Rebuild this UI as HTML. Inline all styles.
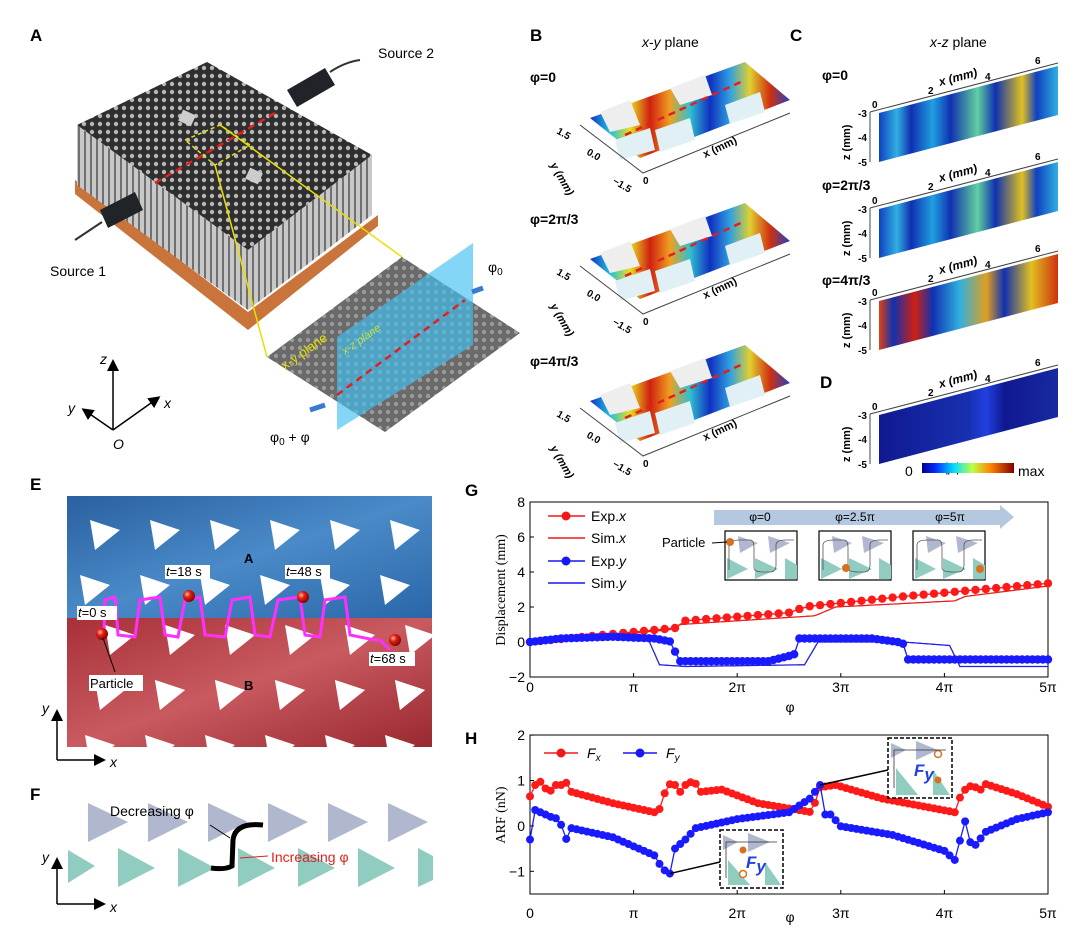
<!DOCTYPE html>
<html><head><meta charset="utf-8">
<style>
html,body{margin:0;padding:0;background:#fff;}
svg{display:block;font-family:"Liberation Sans",Arial,sans-serif;}
.pl{font-weight:bold;font-size:17px;}
.t{font-size:14px;}
.ser{font-family:"Liberation Serif",serif;}
</style></head>
<body>
<svg id="s" width="1080" height="946" viewBox="0 0 1080 946" xmlns="http://www.w3.org/2000/svg">
<defs>
<linearGradient id="jet" x1="0" y1="0" x2="1" y2="0">
<stop offset="0" stop-color="#1030c8"/><stop offset="0.1" stop-color="#20c0e0"/><stop offset="0.2" stop-color="#e8e020"/><stop offset="0.3" stop-color="#d02010"/><stop offset="0.4" stop-color="#f0a020"/><stop offset="0.5" stop-color="#30c0d0"/><stop offset="0.6" stop-color="#1030c0"/><stop offset="0.7" stop-color="#30a0e0"/><stop offset="0.8" stop-color="#e0d030"/><stop offset="0.9" stop-color="#d03010"/><stop offset="1" stop-color="#2040c0"/>
</linearGradient>
<linearGradient id="cz" x1="0" y1="0" x2="1" y2="0">
<stop offset="0" stop-color="#1040c0"/><stop offset="0.1" stop-color="#30b0e0"/><stop offset="0.18" stop-color="#1030b0"/><stop offset="0.3" stop-color="#20a0e0"/><stop offset="0.4" stop-color="#1030b0"/><stop offset="0.55" stop-color="#60d0a0"/><stop offset="0.65" stop-color="#1030b0"/><stop offset="0.8" stop-color="#e0c020"/><stop offset="0.88" stop-color="#1040c0"/><stop offset="1" stop-color="#30b0e0"/>
</linearGradient>
<linearGradient id="cz3" x1="0" y1="0" x2="1" y2="0">
<stop offset="0" stop-color="#e04010"/><stop offset="0.08" stop-color="#1030b0"/><stop offset="0.2" stop-color="#d02010"/><stop offset="0.3" stop-color="#1030b0"/><stop offset="0.45" stop-color="#30b0e0"/><stop offset="0.6" stop-color="#e0a020"/><stop offset="0.7" stop-color="#1030b0"/><stop offset="0.85" stop-color="#e0c020"/><stop offset="1" stop-color="#d03010"/>
</linearGradient>
<linearGradient id="cbar" x1="0" y1="0" x2="1" y2="0">
<stop offset="0" stop-color="#00008f"/><stop offset="0.15" stop-color="#0030ff"/><stop offset="0.35" stop-color="#00e0ff"/><stop offset="0.55" stop-color="#c0ff40"/><stop offset="0.75" stop-color="#ff8000"/><stop offset="1" stop-color="#800000"/>
</linearGradient>
<linearGradient id="dz" x1="0" y1="0" x2="1" y2="0">
<stop offset="0" stop-color="#101890"/><stop offset="0.5" stop-color="#1830b0"/><stop offset="0.6" stop-color="#2040e0"/><stop offset="0.7" stop-color="#101890"/><stop offset="1" stop-color="#182aa0"/>
</linearGradient>
<linearGradient id="eb" x1="0" y1="0" x2="1" y2="1">
<stop offset="0" stop-color="#2a60a0"/><stop offset="0.5" stop-color="#4a8ac8"/><stop offset="1" stop-color="#2a66a8"/>
</linearGradient>
<linearGradient id="er" x1="0" y1="0" x2="1" y2="1">
<stop offset="0" stop-color="#a83038"/><stop offset="0.5" stop-color="#c85a60"/><stop offset="1" stop-color="#9a2830"/>
</linearGradient>
<pattern id="pins" width="8" height="8" patternUnits="userSpaceOnUse">
<rect width="8" height="8" fill="#2e2e2e"/><circle cx="4" cy="4" r="2.2" fill="#b8b8b8"/>
</pattern>
<pattern id="stripes" width="6" height="6" patternUnits="userSpaceOnUse">
<rect width="6" height="6" fill="#c8c8c8"/><rect width="2" height="6" fill="#707070"/>
</pattern>
<radialGradient id="ball" cx="0.35" cy="0.35" r="0.7"><stop offset="0" stop-color="#ffb0a0"/><stop offset="0.4" stop-color="#e02010"/><stop offset="1" stop-color="#800000"/></radialGradient>
<marker id="ah" markerWidth="8" markerHeight="8" refX="6" refY="4" orient="auto"><path d="M0,0 L8,4 L0,8 z" fill="#000"/></marker>
</defs>

<!-- Panel A -->
<text x="30" y="41" class="pl">A</text>
<text x="378" y="58" class="t">Source 2</text>
<text x="50" y="276" class="t">Source 1</text>
<polygon points="75,180 248,312 378,215 378,226 248,330 75,194" fill="#c8743a"/>
<polygon points="77,125 248,250 248,310 77,185" fill="url(#stripes)"/>
<polygon points="248,250 372,155 372,215 248,310" fill="url(#stripes)"/>
<polygon points="77,125 207,62 372,155 248,250" fill="url(#pins)"/>
<rect x="180" y="112" width="14" height="12" fill="#ccc" transform="rotate(25 187 118)"/>
<rect x="247" y="170" width="14" height="12" fill="#ccc" transform="rotate(25 254 176)"/>
<line x1="155" y1="183" x2="275" y2="113" stroke="#e02020" stroke-width="2.5" stroke-dasharray="7,5"/>
<polygon points="185,140 220,125 250,145 215,165" fill="none" stroke="#e0e020" stroke-width="1.5" stroke-dasharray="4,3"/>
<line x1="220" y1="125" x2="402" y2="257" stroke="#e8e000" stroke-width="1.5"/>
<line x1="215" y1="165" x2="267" y2="357" stroke="#e8e000" stroke-width="1.5"/>
<polygon points="287,90 325,68 335,85 297,107" fill="#202428"/>
<path d="M330,72 Q345,62 360,60" stroke="#333" fill="none" stroke-width="2"/>
<polygon points="100,210 135,192 143,210 108,228" fill="#202428"/>
<path d="M102,222 L75,240" stroke="#333" fill="none" stroke-width="2"/>
<polygon points="267,357 402,257 520,333 385,432" fill="#8a8a8a"/>
<polygon points="267,357 402,257 520,333 385,432" fill="url(#pins)" opacity="0.35"/>
<polygon points="337,430 337,337 473,243 473,345" fill="#40c0f0" opacity="0.65"/>
<line x1="337" y1="395" x2="465" y2="300" stroke="#e02020" stroke-width="2.5" stroke-dasharray="7,5"/>
<text x="285" y="370" font-size="13" fill="#e8e000" transform="rotate(-35 285 370)">x-y plane</text>
<text x="345" y="355" font-size="11" fill="#c8e040" font-style="italic" transform="rotate(-35 345 355)">x-z plane</text>
<text x="488" y="272" class="t">φ<tspan font-size="10" dy="3">0</tspan></text>
<text x="270" y="442" class="t">φ<tspan font-size="10" dy="3">0</tspan><tspan dy="-3"> + φ</tspan></text>
<path d="M483,288 L472,292" stroke="#3a7ad0" stroke-width="5"/>
<path d="M310,410 L325,405" stroke="#3a7ad0" stroke-width="5"/>
<line x1="113" y1="430" x2="113" y2="362" stroke="#000" stroke-width="1.5" marker-end="url(#ah)"/>
<line x1="113" y1="430" x2="84" y2="410" stroke="#000" stroke-width="1.5" marker-end="url(#ah)"/>
<line x1="113" y1="430" x2="158" y2="398" stroke="#000" stroke-width="1.5" marker-end="url(#ah)"/>
<text x="100" y="364" class="t" font-style="italic">z</text>
<text x="68" y="413" class="t" font-style="italic">y</text>
<text x="164" y="408" class="t" font-style="italic">x</text>
<text x="113" y="449" class="t" font-style="italic">O</text>

<!-- Panel B -->
<text x="530" y="41" class="pl">B</text>
<text x="642" y="47" class="t"><tspan font-style="italic">x</tspan>-<tspan font-style="italic">y</tspan> plane</text>
<g id="bp">
<polygon points="590,118 745,62 790,100 640,158" fill="url(#jet)"/>
<polygon points="600,112 630,100 640,125 610,132" fill="#eee"/>
<polygon points="670,88 705,75 712,95 680,105" fill="#eee"/>
<polygon points="655,130 690,118 695,140 660,152" fill="#e0f0f4"/>
<polygon points="725,105 760,92 765,112 730,124" fill="#e0f0f4"/>
<polygon points="615,140 650,128 655,150 620,160" fill="#e0f0f4"/>
<line x1="625" y1="135" x2="745" y2="80" stroke="#e02020" stroke-width="2.5" stroke-dasharray="7,5"/>
<polyline points="580,125 643,173 790,113" fill="none" stroke="#444" stroke-width="1"/>
<text x="556" y="133" font-size="10" font-weight="bold" transform="rotate(30 556 133)">1.5</text>
<text x="586" y="154" font-size="10" font-weight="bold" transform="rotate(30 586 154)">0.0</text>
<text x="612" y="183" font-size="10" font-weight="bold" transform="rotate(30 612 183)">−1.5</text>
<text x="643" y="184" font-size="10" font-weight="bold">0</text>
<text x="705" y="158" font-size="11" font-weight="bold" transform="rotate(-25 705 158)">x (mm)</text>
<text x="550" y="165" font-size="11" font-weight="bold" font-style="italic" transform="rotate(60 550 165)">y (mm)</text>
</g>
<use href="#bp" transform="translate(0,141)"/>
<use href="#bp" transform="translate(0,283)"/>
<text x="530" y="82" font-size="14" font-weight="bold">φ=0</text>
<text x="530" y="224" font-size="14" font-weight="bold">φ=2π/3</text>
<text x="530" y="366" font-size="14" font-weight="bold">φ=4π/3</text>

<!-- Panel C -->
<text x="790" y="41" class="pl">C</text>
<text x="930" y="47" class="t"><tspan font-style="italic">x</tspan>-<tspan font-style="italic">z</tspan> plane</text>
<g id="cax">
<polyline points="870,112 1058,63" fill="none" stroke="#444"/>
<line x1="870" y1="112" x2="870" y2="162" stroke="#444"/>
<text x="858" y="117" font-size="10" font-weight="bold">-3</text>
<text x="858" y="141" font-size="10" font-weight="bold">-4</text>
<text x="858" y="166" font-size="10" font-weight="bold">-5</text>
<text x="872" y="108" font-size="10" font-weight="bold">0</text>
<text x="928" y="94" font-size="10" font-weight="bold">2</text>
<text x="985" y="80" font-size="10" font-weight="bold">4</text>
<text x="1035" y="64" font-size="10" font-weight="bold">6</text>
<text x="940" y="86" font-size="12" font-weight="bold" font-style="italic" transform="rotate(-15 940 86)">x (mm)</text>
<text x="850" y="160" font-size="11" font-weight="bold" transform="rotate(90 850 160) rotate(180 850 160)">z (mm)</text>
</g>
<polygon points="879,113 1058,66 1058,115 879,162" fill="url(#cz)"/>
<use href="#cax" transform="translate(0,96)"/>
<polygon points="879,209 1058,162 1058,211 879,258" fill="url(#cz)"/>
<use href="#cax" transform="translate(0,188)"/>
<polygon points="879,301 1058,254 1058,303 879,350" fill="url(#cz3)"/>
<use href="#cax" transform="translate(0,302)"/>
<polygon points="879,415 1058,368 1058,417 879,464" fill="url(#dz)"/>
<text x="822" y="80" font-size="14" font-weight="bold">φ=0</text>
<text x="822" y="190" font-size="14" font-weight="bold">φ=2π/3</text>
<text x="822" y="285" font-size="14" font-weight="bold">φ=4π/3</text>
<text x="820" y="388" class="pl">D</text>
<text x="945" y="472" font-size="13" font-style="italic">|p|</text>
<text x="905" y="476" class="t">0</text>
<rect x="922" y="463" width="92" height="10" fill="url(#cbar)"/>
<text x="1018" y="476" class="t">max</text>

<!-- Panel E -->
<text x="30" y="490" class="pl">E</text>
<rect x="67" y="496" width="365" height="122" fill="url(#eb)"/>
<rect x="67" y="618" width="365" height="129" fill="url(#er)"/>
<g id="etri" fill="#fff">
<polygon points="90,520 120,530 95,550"/><polygon points="150,520 180,530 155,550"/><polygon points="210,520 240,530 215,550"/><polygon points="270,520 300,530 275,550"/><polygon points="330,520 360,530 335,550"/><polygon points="390,520 420,530 395,550"/>
<polygon points="80,575 110,585 85,605"/><polygon points="140,575 170,585 145,605"/><polygon points="200,575 230,585 205,605"/><polygon points="260,575 290,585 265,605"/><polygon points="320,575 350,585 325,605"/><polygon points="380,575 410,585 385,605"/>
</g>
<use href="#etri" transform="translate(15,105)"/>
<use href="#etri" transform="translate(5,160)"/>
<path d="M104,632 L105,600 L115,597 L118,635 L135,637 L140,600 L160,597 L165,635 L178,637 L185,600 L200,597 L205,635 L225,637 L232,600 L250,597 L255,635 L270,637 L278,600 L300,597 L305,635 L320,637 L325,600 L345,597 L350,635 L375,640 L380,640 L390,650" fill="none" stroke="#ff30ff" stroke-width="3"/>
<circle cx="102" cy="634" r="6" fill="url(#ball)"/>
<circle cx="189" cy="596" r="6" fill="url(#ball)"/>
<circle cx="303" cy="597" r="6" fill="url(#ball)"/>
<circle cx="395" cy="640" r="6" fill="url(#ball)"/>
<rect x="77" y="606" width="40" height="14" fill="#fff"/><text x="78" y="617" font-size="13"><tspan font-style="italic">t</tspan>=0 s</text>
<rect x="165" y="565" width="45" height="14" fill="#fff"/><text x="166" y="576" font-size="13"><tspan font-style="italic">t</tspan>=18 s</text>
<rect x="285" y="565" width="45" height="14" fill="#fff"/><text x="286" y="576" font-size="13"><tspan font-style="italic">t</tspan>=48 s</text>
<rect x="369" y="652" width="46" height="14" fill="#fff"/><text x="370" y="663" font-size="13"><tspan font-style="italic">t</tspan>=68 s</text>
<line x1="103" y1="638" x2="115" y2="672" stroke="#000"/>
<rect x="89" y="675" width="54" height="16" fill="#fff"/><text x="90" y="688" font-size="13">Particle</text>
<text x="244" y="563" font-size="13" font-weight="bold">A</text>
<text x="244" y="690" font-size="13" font-weight="bold">B</text>
<line x1="57" y1="760" x2="57" y2="712" stroke="#000" stroke-width="1.5" marker-end="url(#ah)"/>
<line x1="57" y1="760" x2="103" y2="760" stroke="#000" stroke-width="1.5" marker-end="url(#ah)"/>
<text x="42" y="713" class="t" font-style="italic">y</text>
<text x="110" y="767" class="t" font-style="italic">x</text>

<!-- Panel F -->
<text x="30" y="800" class="pl">F</text>
<g fill="#b0b8d0">
<polygon points="88,803 128,822 88,842"/><polygon points="148,803 188,822 148,842"/><polygon points="208,803 248,822 208,842"/><polygon points="268,803 308,822 268,842"/><polygon points="328,803 368,822 328,842"/><polygon points="388,803 428,822 388,842"/>
</g>
<g fill="#90ccc0">
<polygon points="68,850 95,866 68,883"/><polygon points="118,848 155,868 118,887"/><polygon points="178,848 215,868 178,887"/><polygon points="238,848 275,868 238,887"/><polygon points="298,848 335,868 298,887"/><polygon points="358,848 395,868 358,887"/><polygon points="418,848 433,856 433,880 418,887"/>
</g>
<path d="M263,825 Q235,822 233,840 L232,866 Q225,870 211,868" fill="none" stroke="#000" stroke-width="5"/>
<text x="110" y="816" font-size="14">Decreasing φ</text>
<line x1="210" y1="825" x2="230" y2="838" stroke="#000"/>
<text x="271" y="862" font-size="14" fill="#e02020">Increasing φ</text>
<line x1="240" y1="858" x2="268" y2="856" stroke="#e02020"/>
<line x1="57" y1="904" x2="57" y2="860" stroke="#000" stroke-width="1.5" marker-end="url(#ah)"/>
<line x1="57" y1="904" x2="103" y2="904" stroke="#000" stroke-width="1.5" marker-end="url(#ah)"/>
<text x="42" y="862" class="t" font-style="italic">y</text>
<text x="110" y="912" class="t" font-style="italic">x</text>

<!-- Panel G -->
<text x="465" y="496" class="pl">G</text>
<rect x="530" y="502" width="518" height="175" fill="none" stroke="#000" stroke-width="1"/>
<g id="gG"></g>
<text x="505" y="590" class="ser" font-size="14" text-anchor="middle" transform="rotate(-90 505 590)">Displacement (mm)</text>
<polygon points="714,510 1000,510 1000,505 1014,517 1000,529 1000,525 714,525" fill="#b4c8e0"/>
<text x="760" y="521" font-size="12" text-anchor="middle">φ=0</text>
<text x="855" y="521" font-size="12" text-anchor="middle">φ=2.5π</text>
<text x="950" y="521" font-size="12" text-anchor="middle">φ=5π</text>
<g id="gbox">
<rect x="725" y="531" width="72" height="49" fill="#fff" stroke="#000" stroke-width="1.2"/>
<polygon points="738,536 758,543 740,553" fill="#b0b8d0"/><polygon points="768,536 790,543 770,553" fill="#b0b8d0"/>
<polygon points="727,558 748,569 727,579" fill="#90ccc0"/><polygon points="755,558 778,569 755,579" fill="#90ccc0"/><polygon points="785,558 797,565 797,579 785,579" fill="#90ccc0"/>
<path d="M729,570 L729,545 Q729,540 740,540 L750,540 Q754,540 754,548 L754,568 Q754,572 765,572 L770,572 Q776,572 776,565 L776,545 Q776,540 786,540 L794,540" fill="none" stroke="#555" stroke-width="0.8"/>
</g>
<use href="#gbox" transform="translate(94,0)"/>
<use href="#gbox" transform="translate(188,0)"/>
<circle cx="730" cy="542" r="4" fill="#d87020"/>
<circle cx="846" cy="568" r="4" fill="#d87020"/>
<circle cx="980" cy="569" r="4" fill="#d87020"/>
<text x="662" y="547" font-size="13">Particle</text>
<line x1="712" y1="543" x2="727" y2="542" stroke="#000"/>

<!-- Panel H -->
<text x="465" y="744" class="pl">H</text>
<rect x="530" y="735" width="518" height="159" fill="none" stroke="#000" stroke-width="1"/>
<g id="gH"></g>
<text x="505" y="815" class="ser" font-size="14" text-anchor="middle" transform="rotate(-90 505 815)">ARF (nN)</text>
<text x="790" y="922" font-size="14" text-anchor="middle">φ</text>
<text x="790" y="712" font-size="14" text-anchor="middle">φ</text>
</svg>
<script>
var NS="http://www.w3.org/2000/svg";
function el(p,t,a,txt){var e=document.createElementNS(NS,t);for(var k in a)e.setAttribute(k,a[k]);if(txt!==undefined)e.textContent=txt;p.appendChild(e);return e;}
function interp(n,x){for(var i=0;i<n.length-1;i++){if(x<=n[i+1][0]){var a=n[i],b=n[i+1];if(b[0]==a[0])return b[1];return a[1]+(b[1]-a[1])*(x-a[0])/(b[0]-a[0]);}}return n[n.length-1][1];}
var X=function(p){return 530+p/5*518;};
function axes(g,Y,ticks,labY){
  var pis=["0","π","2π","3π","4π","5π"];
  for(var i=0;i<=5;i++){var x=X(i);el(g,"line",{x1:x,x2:x,y1:Y.b,y2:Y.b-4,stroke:"#000"});el(g,"text",{x:x,y:labY,"font-size":14,"text-anchor":"middle"},pis[i]);}
  ticks.forEach(function(t){var y=Y.f(t);el(g,"line",{x1:530,x2:534,y1:y,y2:y,stroke:"#000"});el(g,"text",{x:525,y:y+5,"font-size":14,"text-anchor":"end"},t<0?"−"+(-t):""+t);});
}
function series(g,nodes,step,col,r,line){
  var pts=[];for(var p=0;p<=5.0001;p+=step){pts.push([X(p),nodes(p)]);}
  if(line!==false)el(g,"polyline",{points:pts.map(function(q){return q[0].toFixed(1)+","+q[1].toFixed(1)}).join(" "),fill:"none",stroke:col,"stroke-width":1.3});
  if(r)pts.forEach(function(q){el(g,"circle",{cx:q[0],cy:q[1],r:r,fill:col});});
}
var gG=document.getElementById("gG");
var YG=function(v){return 677-(v+2)*17.5;};
axes(gG,{b:677,f:YG},[-2,0,2,4,6,8],692);
var expx=[[0,0],[1.4,0.8],[1.47,1.2],[2.55,1.7],[2.63,2.0],[3.6,2.6],[5,3.35]];
var simx=[[0,0],[1.35,0.7],[1.45,1.0],[2.75,1.5],[2.95,2.0],[4.1,2.35],[4.2,2.6],[5,3.2]];
var expy=[[0,0],[0.3,0.2],[0.8,0.3],[1.2,0.2],[1.38,0],[1.42,-1.1],[2.3,-1.1],[2.5,-0.8],[2.55,-0.7],[2.6,0.2],[3.3,0.2],[3.55,0.0],[3.6,-0.1],[3.65,-1.0],[5,-1.0]];
var simy=[[0,0],[0.8,0.15],[1.15,0.05],[1.25,-1.3],[1.5,-1.4],[2.65,-1.3],[2.78,0],[3.6,0],[4.05,-0.2],[4.15,-1.4],[5,-1.4]];
series(gG,function(p){return YG(interp(simx,p));},0.02,"#e82020",0);
series(gG,function(p){return YG(interp(expx,p));},0.1,"#ff1a1a",4.2);
series(gG,function(p){return YG(interp(simy,p));},0.01,"#2020e8",0);
series(gG,function(p){return YG(interp(expy,p));},0.05,"#1a1aff",4.2);
var leg=[["Exp.",true,"#f01818"],["Sim.",false,"#f01818"],["Exp.",true,"#1818f0"],["Sim.",false,"#1818f0"]];
var lab=["x","x","y","y"];
leg.forEach(function(L,i){var y=[516,538,561,583][i];el(gG,"line",{x1:548,x2:585,y1:y,y2:y,stroke:L[2],"stroke-width":1.5});if(L[1])el(gG,"circle",{cx:566,cy:y,r:4.5,fill:L[2]});var t=el(gG,"text",{x:591,y:y+5,"font-size":14},L[0]);el(t,"tspan",{"font-style":"italic"},lab[i]);});
var gH=document.getElementById("gH");
var YH=function(v){return 894-(v+1.5)*45.4;};
axes(gH,{b:894,f:YH},[-1,0,1,2],918);
var fx=[[0,0.65],[0.05,0.9],[0.12,1.0],[0.18,0.65],[0.22,0.9],[0.3,0.9],[0.35,0.95],[0.4,0.75],[0.8,0.5],[1.2,0.3],[1.27,0.4],[1.32,0.93],[1.4,0.9],[1.45,0.75],[1.5,0.9],[1.58,1.0],[1.65,0.75],[1.85,0.8],[2.2,0.5],[2.72,0.3],[2.8,0.85],[2.95,0.9],[3.4,0.6],[4.1,0.3],[4.17,0.75],[4.28,0.92],[4.33,0.75],[4.4,0.92],[4.7,0.7],[5,0.42]];
var fy=[[0,-0.3],[0.05,0.35],[0.2,0.2],[0.28,0.15],[0.32,-0.1],[0.36,-0.35],[0.4,-0.05],[0.8,-0.25],[1.2,-0.65],[1.28,-0.95],[1.35,-1.05],[1.4,-0.5],[1.5,-0.3],[1.6,-0.05],[2.0,0.15],[2.5,0.3],[2.7,0.6],[2.8,0.9],[2.85,0.25],[2.92,0.25],[2.98,0.0],[3.5,-0.2],[4.0,-0.55],[4.1,-0.75],[4.2,0.1],[4.26,-0.45],[4.32,-0.4],[4.38,-0.15],[4.7,0.15],[5,0.3]];
series(gH,function(p){return YH(interp(fx,p));},0.05,"#ff1a1a",4);
series(gH,function(p){return YH(interp(fy,p));},0.05,"#1a1aff",4);
[["#f01818",544,"x",587],["#1818f0",623,"y",666]].forEach(function(L,i){el(gH,"line",{x1:L[1],x2:L[1]+34,y1:753,y2:753,stroke:L[0],"stroke-width":1.5});el(gH,"circle",{cx:L[1]+17,cy:753,r:4.5,fill:L[0]});var t=el(gH,"text",{x:L[3],y:758,"font-size":14,"font-style":"italic"},"F");el(t,"tspan",{"font-size":10,dy:3},L[2]);});
el(gH,"line",{x1:X(1.35),y1:YH(-1.05),x2:720,y2:862,stroke:"#000","stroke-width":1.5});
el(gH,"line",{x1:X(2.8),y1:YH(0.9),x2:888,y2:770,stroke:"#000","stroke-width":1.5});
function hbox(x,y,w,h,up){var g=el(gH,"g",{});el(g,"rect",{x:x,y:y,width:w,height:h,fill:"#fff",stroke:"#000","stroke-width":1.5,"stroke-dasharray":"4,2"});
el(g,"polygon",{points:(x+3)+","+(y+5)+" "+(x+18)+","+(y+12)+" "+(x+3)+","+(y+20),fill:"#b0b8d0"});
el(g,"polygon",{points:(x+28)+","+(y+3)+" "+(x+50)+","+(y+12)+" "+(x+28)+","+(y+22),fill:"#b0b8d0"});
el(g,"polygon",{points:(x+8)+","+(y+30)+" "+(x+30)+","+(y+h-3)+" "+(x+8)+","+(y+h-3),fill:"#90ccc0"});
el(g,"polygon",{points:(x+45)+","+(y+32)+" "+(x+w-2)+","+(y+h-3)+" "+(x+45)+","+(y+h-3),fill:"#90ccc0"});
var t=el(g,"text",{x:x+26,y:y+38,"font-size":17,"font-weight":"bold","font-style":"italic",fill:"#2040e0"},"F");el(t,"tspan",{dy:4},"y");
el(g,"circle",{cx:x+(up?50:23),cy:y+(up?42:20),r:3.5,fill:"#d87020"});
el(g,"circle",{cx:x+(up?50:23),cy:y+(up?16:44),r:3.5,fill:"#fff",stroke:"#d87020","stroke-width":1.5});
el(g,"path",{d:"M"+(x+6)+","+(y+h-10)+" L"+(x+6)+","+(y+12)+" L"+(x+w-6)+","+(y+12),fill:"none",stroke:"#333","stroke-width":0.8});
}
hbox(720,830,63,58,false);
hbox(888,738,64,60,true);
</script>
</body></html>
